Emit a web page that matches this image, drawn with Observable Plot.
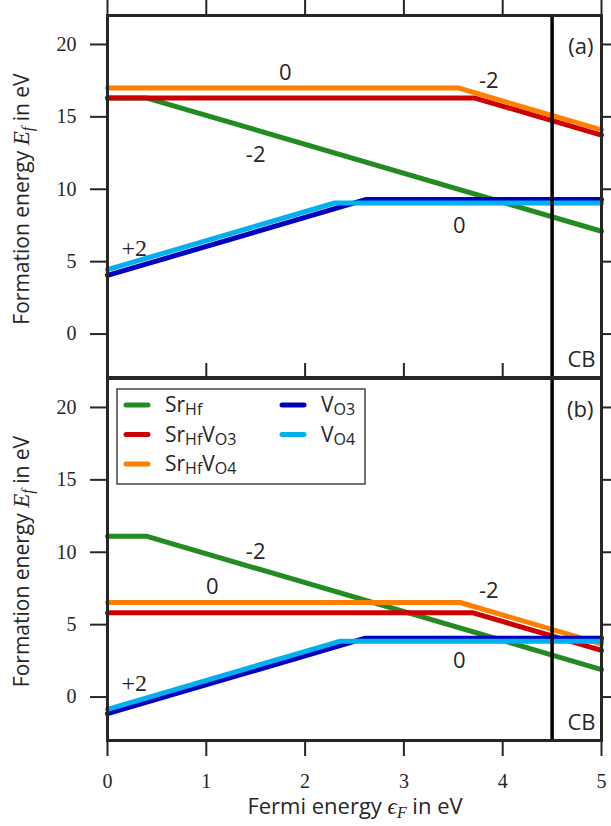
<!DOCTYPE html>
<html><head><meta charset="utf-8">
<script src="https://cdn.jsdelivr.net/npm/d3@7"></script>
<script src="https://cdn.jsdelivr.net/npm/@observablehq/plot@0.6"></script>
<style>
body{margin:0;background:#fff;}
#wrap{position:relative;width:611px;height:826px;overflow:hidden;background:#fff;}
#wrap svg{position:absolute;left:0;overflow:visible;background:transparent;}
</style></head><body><div id="wrap"></div>
<script>
// ---------- data ----------
const xDomain = [0, 5];
const yDomain = [-3, 22];
const xTicks = [0, 1, 2, 3, 4, 5];
const yTicks = [0, 5, 10, 15, 20];
const cbEdge = [4.5];
const seriesKeys = ["SrHf", "SrHfVO3", "SrHfVO4", "VO3", "VO4"];
const seriesLabels = ["Sr_{Hf}", "Sr_{Hf}V_{O3}", "Sr_{Hf}V_{O4}", "V_{O3}", "V_{O4}"];
const seriesColors = ["#228b22", "#cc0000", "#ff8000", "#0000c0", "#00b0f0"];

// panel (a): Fermi energy (x) and formation energy (y) at kinks
const fermiA_SrHf = [0, 0.4, 5];      const energyA_SrHf = [16.3, 16.3, 7.1];
const fermiA_SrHfVO3 = [0, 3.72, 5];  const energyA_SrHfVO3 = [16.3, 16.3, 13.74];
const fermiA_SrHfVO4 = [0, 3.55, 5];  const energyA_SrHfVO4 = [17.0, 17.0, 14.1];
const fermiA_VO3 = [0, 2.62, 5];      const energyA_VO3 = [4.05, 9.3, 9.3];
const fermiA_VO4 = [0, 2.3, 5];       const energyA_VO4 = [4.45, 9.05, 9.05];

// panel (b)
const fermiB_SrHf = [0, 0.4, 5];      const energyB_SrHf = [11.1, 11.1, 1.9];
const fermiB_SrHfVO3 = [0, 3.7, 5];   const energyB_SrHfVO3 = [5.82, 5.82, 3.22];
const fermiB_SrHfVO4 = [0, 3.57, 5];  const energyB_SrHfVO4 = [6.53, 6.53, 3.67];
const fermiB_VO3 = [0, 2.61, 5];      const energyB_VO3 = [-1.15, 4.07, 4.07];
const fermiB_VO4 = [0, 2.35, 5];      const energyB_VO4 = [-0.85, 3.85, 3.85];

// charge-state annotations
const chargeTextA = ["0", "-2", "+2", "-2", "0"];
const chargeXA = [1.8, 1.5, 0.27, 3.86, 3.56];
const chargeYA = [18.0, 12.4, 5.9, 17.5, 7.5];
const chargeTextB = ["-2", "0", "+2", "-2", "0"];
const chargeXB = [1.5, 1.06, 0.27, 3.86, 3.56];
const chargeYB = [10.0, 7.6, 0.97, 7.3, 2.5];

const panelTags = ["(a)", "(b)"];
const cbText = "CB";

// ---------- helpers ----------
const SANS = "Open Sans, Lato, DejaVu Sans, sans-serif";
const SERIF = "Liberation Serif, DejaVu Serif, serif";
const INK = "#262626";

function rows(xs, ys, key) { return xs.map((x, i) => ({x, y: ys[i], key})); }
function labelRows(ts, xs, ys) { return ts.map((t, i) => ({t, x: xs[i], y: ys[i]})); }

function makePanel({series, labels, tag, height, marginTop, marginBottom, showBottomLabels}) {
  const marks = [];
  series.forEach((r, i) => marks.push(Plot.line(r, {x: "x", y: "y", stroke: seriesColors[i], strokeWidth: 5, strokeLinejoin: "round"})));
  marks.push(Plot.ruleX(cbEdge, {stroke: "#000", strokeWidth: 3.5}));
  marks.push(Plot.text(labels.filter(d => d.t !== "+2"), {x: "x", y: "y", text: "t", fontSize: 22, fontFamily: SANS, fill: INK}));
  marks.push(Plot.text(labels.filter(d => d.t === "+2"), {x: "x", y: "y", text: "t", fontSize: 24, fontFamily: SERIF, fill: INK}));
  marks.push(Plot.text([tag], {frameAnchor: "top-right", dx: -8, dy: 31, textAnchor: "end", lineAnchor: "middle", fontSize: 22, fontFamily: SANS, fill: INK}));
  marks.push(Plot.text([cbText], {frameAnchor: "bottom-right", dx: -6, dy: -18, textAnchor: "end", lineAnchor: "middle", fontSize: 22, fontFamily: SANS, fill: INK}));
  marks.push(Plot.axisY({anchor: "left", ticks: yTicks, tickSize: 17, tickPadding: 14, strokeWidth: 2, fontSize: 20, fontFamily: SERIF, tickFormat: d3.format("d"), label: null}));
  marks.push(Plot.axisY({anchor: "right", ticks: yTicks, tickSize: 10, strokeWidth: 2, tickFormat: () => "", label: null}));
  marks.push(Plot.axisX({anchor: "top", ticks: xTicks, tickSize: 16, strokeWidth: 2, tickFormat: () => "", label: null}));
  if (showBottomLabels) {
    marks.push(Plot.axisX({anchor: "bottom", ticks: xTicks, tickSize: 16, tickPadding: 17, strokeWidth: 2, fontSize: 20, fontFamily: SERIF, tickFormat: d3.format("d"), label: null}));
  }
  marks.push(Plot.frame({stroke: INK, strokeWidth: 3}));
  return Plot.plot({
    width: 611, height, marginTop, marginBottom, marginLeft: 107, marginRight: 10,
    x: {domain: xDomain, label: null},
    y: {domain: yDomain, label: null},
    style: {color: INK, background: "transparent", overflow: "visible", fontFamily: SERIF, fontSize: "20px"},
    marks
  });
}

function richText(parent, parts, attrs) {
  const t = parent.append("text");
  Object.entries(attrs).forEach(([k, v]) => t.attr(k, v));
  let shift = 0;
  parts.forEach(p => {
    const s = t.append("tspan").text(p.t);
    const target = p.sub ? p.sub : 0;
    if (target !== shift) { s.attr("dy", target - shift); shift = target; }
    if (p.size) s.attr("font-size", p.size);
    if (p.italic) s.attr("font-style", "italic");
    if (p.family) s.attr("font-family", p.family);
  });
  return t;
}

function parseLabel(str) {
  const parts = [];
  const re = /([^_]+?)?_\{([^}]*)\}/g;
  let m, last = 0;
  while ((m = re.exec(str))) {
    if (m[1]) parts.push({t: m[1]});
    parts.push({t: m[2], sub: 3, size: 16});
    last = re.lastIndex;
  }
  if (last < str.length) parts.push({t: str.slice(last)});
  return parts;
}

// ---------- build ----------
const wrap = d3.select("#wrap");

const seriesA = [rows(fermiA_SrHf, energyA_SrHf), rows(fermiA_SrHfVO3, energyA_SrHfVO3), rows(fermiA_SrHfVO4, energyA_SrHfVO4), rows(fermiA_VO3, energyA_VO3), rows(fermiA_VO4, energyA_VO4)];
const seriesB = [rows(fermiB_SrHf, energyB_SrHf), rows(fermiB_SrHfVO3, energyB_SrHfVO3), rows(fermiB_SrHfVO4, energyB_SrHfVO4), rows(fermiB_VO3, energyB_VO3), rows(fermiB_VO4, energyB_VO4)];

const svgA = makePanel({series: seriesA, labels: labelRows(chargeTextA, chargeXA, chargeYA), tag: panelTags[0], height: 377, marginTop: 15, marginBottom: 0, showBottomLabels: false});
const svgB = makePanel({series: seriesB, labels: labelRows(chargeTextB, chargeXB, chargeYB), tag: panelTags[1], height: 464, marginTop: 16, marginBottom: 86, showBottomLabels: true});
svgA.style.top = "0px";
svgB.style.top = "362px";
wrap.node().appendChild(svgA);
wrap.node().appendChild(svgB);

const yLabelParts = [
  {t: "Formation energy "},
  {t: "E", italic: true, family: SERIF, size: 23},
  {t: "f", italic: true, family: SERIF, size: 16, sub: 4},
  {t: " in eV"}
];
[[svgA, 199], [svgB, 199.5]].forEach(([svg, cy]) => {
  richText(d3.select(svg), yLabelParts, {
    transform: `translate(29,${cy}) rotate(-90)`, "text-anchor": "middle",
    "font-family": SANS, "font-size": 21, fill: INK
  });
});

richText(d3.select(svgB), [
  {t: "Fermi energy "},
  {t: "\u03F5", italic: true, family: SERIF, size: 23},
  {t: "F", italic: true, family: SERIF, size: 16, sub: 4},
  {t: " in eV"}
], {transform: `translate(355,452)`, "text-anchor": "middle", "font-family": SANS, "font-size": 22, fill: INK});

// legend (panel b)
const lg = d3.select(svgB).append("g").attr("text-anchor", "start");
lg.append("rect").attr("x", 117).attr("y", 27).attr("width", 248).attr("height", 95)
  .attr("fill", "#fff").attr("stroke", "#444").attr("stroke-width", 1.5);
const legendCol = [0, 0, 0, 1, 1];
const legendRow = [0, 1, 2, 0, 1];
seriesKeys.forEach((k, i) => {
  const x0 = legendCol[i] ? 280 : 124;
  const yc = 43 + legendRow[i] * 29.5;
  lg.append("line").attr("x1", x0 + 2).attr("x2", x0 + 24).attr("y1", yc).attr("y2", yc)
    .attr("stroke", seriesColors[i]).attr("stroke-width", 5).attr("stroke-linecap", "round");
  richText(lg, parseLabel(seriesLabels[i]), {x: x0 + 41, y: yc + 7, "text-anchor": "start", "font-family": SANS, "font-size": 21, fill: INK});
});
</script></body></html>
